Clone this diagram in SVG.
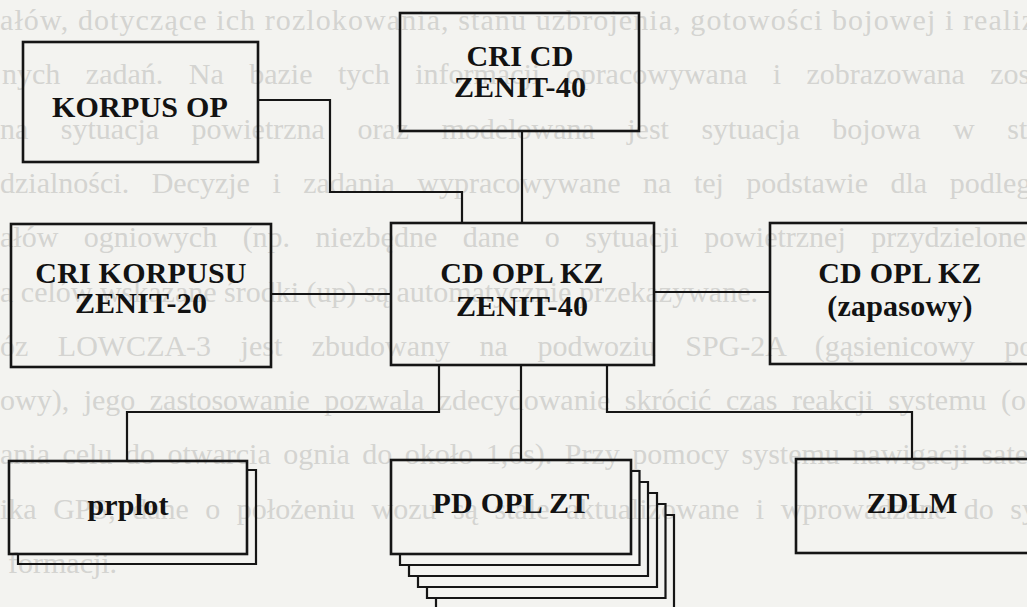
<svg xmlns="http://www.w3.org/2000/svg" width="1027" height="607" viewBox="0 0 1027 607">
<style>
.bg{font-family:"Liberation Serif","Times New Roman",serif;font-size:30px;fill:#d4d4d1}
.box{fill:none;stroke:#151515;stroke-width:2.6}
.sh{fill:none;stroke:#151515;stroke-width:2.2}
.lbl{font-family:"Liberation Serif","Times New Roman",serif;font-weight:bold;font-size:30px;fill:#121212;text-anchor:middle;letter-spacing:0.2px}
.con{fill:none;stroke:#151515;stroke-width:2.2}
</style>
<rect width="1027" height="607" fill="#f3f3f0"/>
<g id="page-text">
<text class="bg" x="0" y="30" textLength="1035" lengthAdjust="spacing">ałów, dotyczące ich rozlokowania, stanu uzbrojenia, gotowości bojowej i realiz</text>
<text class="bg" x="2" y="84" word-spacing="18">nych zadań. Na bazie tych informacji opracowywana i zobrazowana zos</text>
<text class="bg" x="0" y="139" word-spacing="25">na sytuacja powietrzna oraz modelowana jest sytuacja bojowa w str</text>
<text class="bg" x="0" y="193" word-spacing="15">dzialności. Decyzje i zadania wypracowywane na tej podstawie dla podleg</text>
<text class="bg" x="0" y="247" word-spacing="18">ałów ogniowych (np. niezbędne dane o sytuacji powietrznej przydzielone</text>
<text class="bg" x="0" y="302">a celów wskazane środki (up) są automatycznie przekazywane.</text>
<text class="bg" x="0" y="356" word-spacing="22">óz LOWCZA-3 jest zbudowany na podwoziu SPG-2A (gąsienicowy po</text>
<text class="bg" x="0" y="410" word-spacing="7">owy), jego zastosowanie pozwala zdecydowanie skrócić czas reakcji systemu (o</text>
<text class="bg" x="0" y="464" word-spacing="5">ania celu do otwarcia ognia do około 1,6s). Przy pomocy systemu nawigacji sate</text>
<text class="bg" x="0" y="519" word-spacing="9">ika GPS, dane o położeniu wozu są stale aktualizowane i wprowadzane do sys</text>
<text class="bg" x="8" y="573">formacji.</text>
</g>
<g id="connectors">
<path class="con" d="M258,100 H330 V192 H462 V223"/>
<path class="con" d="M522,131 V223"/>
<path class="con" d="M271,294 H391"/>
<path class="con" d="M654,292 H770"/>
<path class="con" d="M439,365 V412 H127 V461"/>
<path class="con" d="M521,365 V460"/>
<path class="con" d="M607,365 V412 H912 V459"/>
</g>
<g id="korpus-op">
<rect class="box" x="23" y="42" width="235" height="120"/>
<text class="lbl" x="140" y="117">KORPUS OP</text>
</g>
<g id="cri-cd">
<rect class="box" x="400" y="13" width="239" height="118"/>
<text class="lbl" x="520" y="66">CRI CD</text>
<text class="lbl" x="520" y="97">ZENIT-40</text>
</g>
<g id="cri-korpusu">
<rect class="box" x="11" y="224" width="260" height="143"/>
<text class="lbl" x="141" y="283">CRI KORPUSU</text>
<text class="lbl" x="141" y="313">ZENIT-20</text>
</g>
<g id="cd-opl-kz">
<rect class="box" x="391" y="223" width="263" height="142"/>
<text class="lbl" x="522" y="283">CD OPL KZ</text>
<text class="lbl" x="522" y="316">ZENIT-40</text>
</g>
<g id="cd-opl-kz-zapasowy">
<rect class="box" x="770" y="223" width="262" height="141"/>
<text class="lbl" x="900" y="283">CD OPL KZ</text>
<text class="lbl" x="900" y="316">(zapasowy)</text>
</g>
<g id="prplot">
<path class="sh" d="M247,470 H256 V564 H18 V554"/>
<rect class="box" x="9" y="461" width="238" height="93"/>
<text class="lbl" x="128" y="515">prplot</text>
</g>
<g id="pd-opl-zt">
<path class="sh" d="M631,471 H639.5 V565 H400 V554"/>
<path class="sh" d="M639.5,482 H648 V576 H409 V565"/>
<path class="sh" d="M648,493 H657 V587 H418 V576"/>
<path class="sh" d="M657,504 H665.5 V598 H427 V587"/>
<path class="sh" d="M665.5,515 H674 V609 H436 V598"/>
<rect class="box" x="391" y="460" width="240" height="94"/>
<text class="lbl" x="511" y="513">PD OPL ZT</text>
</g>
<g id="zdlm">
<rect class="box" x="796" y="459" width="236" height="94"/>
<text class="lbl" x="912" y="513">ZDLM</text>
</g>
</svg>
